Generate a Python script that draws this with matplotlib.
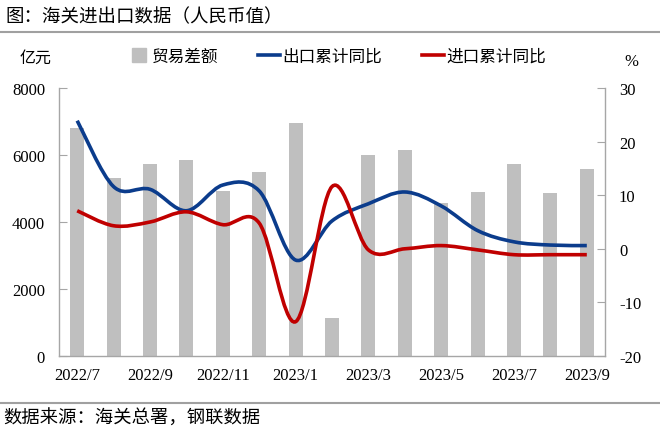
import numpy as np
import matplotlib.pyplot as plt
from matplotlib.path import Path
from matplotlib.patches import PathPatch
from matplotlib.lines import Line2D

plt.rcParams['font.family'] = ['Liberation Serif', 'Noto Sans CJK SC']
plt.rcParams['axes.unicode_minus'] = False

months = ['2022/7', '2022/8', '2022/9', '2022/10', '2022/11', '2022/12',
          '2023/1', '2023/2', '2023/3', '2023/4', '2023/5', '2023/6',
          '2023/7', '2023/8', '2023/9']
trade_balance = [6800, 5310, 5730, 5850, 4930, 5490,
                 6960, 1120, 6000, 6150, 4560, 4900,
                 5730, 4870, 5580]
export_yoy = [23.9, 11.6, 11.1, 7.1, 11.9, 10.8,
              -2.1, 5.2, 8.4, 10.6, 8.0, 3.4,
              1.3, 0.7, 0.6]
import_yoy = [7.1, 4.3, 5.0, 6.9, 4.5, 4.8,
              -13.6, 11.6, -0.2, 0.0, 0.6, -0.2,
              -1.1, -1.1, -1.1]

grey = '#bfbfbf'
blue = '#0b3c8c'
red = '#c00000'
spine_c = '#a6a6a6'
cjk = ['Noto Sans CJK SC', 'DejaVu Sans']


def smooth_path(x, y):
    # bezier through each point, like excel's smoothed line
    x = np.asarray(x, float)
    y = np.asarray(y, float)
    pts = np.column_stack([x, y])
    verts = [pts[0]]
    codes = [Path.MOVETO]
    n = len(pts)
    for i in range(n - 1):
        p0 = pts[i - 1] if i > 0 else pts[i]
        p1 = pts[i]
        p2 = pts[i + 1]
        p3 = pts[i + 2] if i + 2 < n else pts[i + 1]
        c1 = p1 + (p2 - p0) / 6
        c2 = p2 - (p3 - p1) / 6
        verts += [c1, c2, p2]
        codes += [Path.CURVE4] * 3
    return Path(verts, codes)


fig = plt.figure(figsize=(6.6, 4.39), dpi=100)
W, H = 660, 439
ax = fig.add_axes([59 / W, (H - 357) / H, 546 / W, 268 / H])
x = np.arange(len(months))
ax.bar(x, trade_balance, width=0.39, color=grey, zorder=1)
ax.set_xlim(-0.5, len(months) - 0.5)
ax.set_ylim(0, 8000)
ax.set_yticks([0, 2000, 4000, 6000, 8000])
ax.set_xticks(x[::2])
ax.set_xticklabels(months[::2])

ax2 = ax.twinx()
ax2.set_ylim(-20, 30)
ax2.set_yticks([-20, -10, 0, 10, 20, 30])
ax2.add_patch(PathPatch(smooth_path(x, export_yoy), fill=False, ec=blue, lw=2.6, capstyle='butt', zorder=3))
ax2.add_patch(PathPatch(smooth_path(x, import_yoy), fill=False, ec=red, lw=2.6, capstyle='butt', zorder=3))

for a in (ax, ax2):
    for s in a.spines.values():
        s.set_visible(False)
ax.spines['left'].set_visible(True)
ax.spines['bottom'].set_visible(True)
ax2.spines['right'].set_visible(True)
for s in (ax.spines['left'], ax.spines['bottom'], ax2.spines['right']):
    s.set_color(spine_c)
    s.set_linewidth(1)
ax.tick_params(axis='y', direction='in', length=6, color=spine_c, labelsize=12, pad=10)
ax.tick_params(axis='x', length=0, labelsize=12, pad=8)
ax2.tick_params(axis='y', direction='in', length=6, color=spine_c, labelsize=12, pad=10)

fig.text(5 / W, 1 - 17 / H, '图：海关进出口数据（人民币值）', family=cjk, fontsize=13.3, va='center')
fig.add_artist(Line2D([0, 1], [1 - 33 / H, 1 - 33 / H], color='#a0a0a0', lw=1.5))
fig.add_artist(Line2D([0, 1], [1 - 404 / H, 1 - 404 / H], color='#a0a0a0', lw=1.5))
fig.text(3 / W, 1 - 419 / H, '数据来源：海关总署，钢联数据', family=cjk, fontsize=13.2, va='center')
fig.text(20 / W, 1 - 58 / H, '亿元', family=cjk, fontsize=11.5, va='center')
fig.text(624 / W, 1 - 62 / H, '%', fontsize=12, va='center')

handles = [Line2D([], [], ls='none', marker='s', ms=9.5, color=grey),
           Line2D([], [], color=blue, lw=2.6),
           Line2D([], [], color=red, lw=2.6)]
labels = ['贸易差额', '出口累计同比', '进口累计同比']
fig.legend(handles, labels, loc='center', bbox_to_anchor=(337 / W, 1 - 57 / H), ncol=3,
           frameon=False, prop={'family': cjk, 'size': 12}, handlelength=1.3,
           handletextpad=0.15, columnspacing=2.4, borderpad=0, borderaxespad=0)

fig.savefig('out.png', dpi=100)
